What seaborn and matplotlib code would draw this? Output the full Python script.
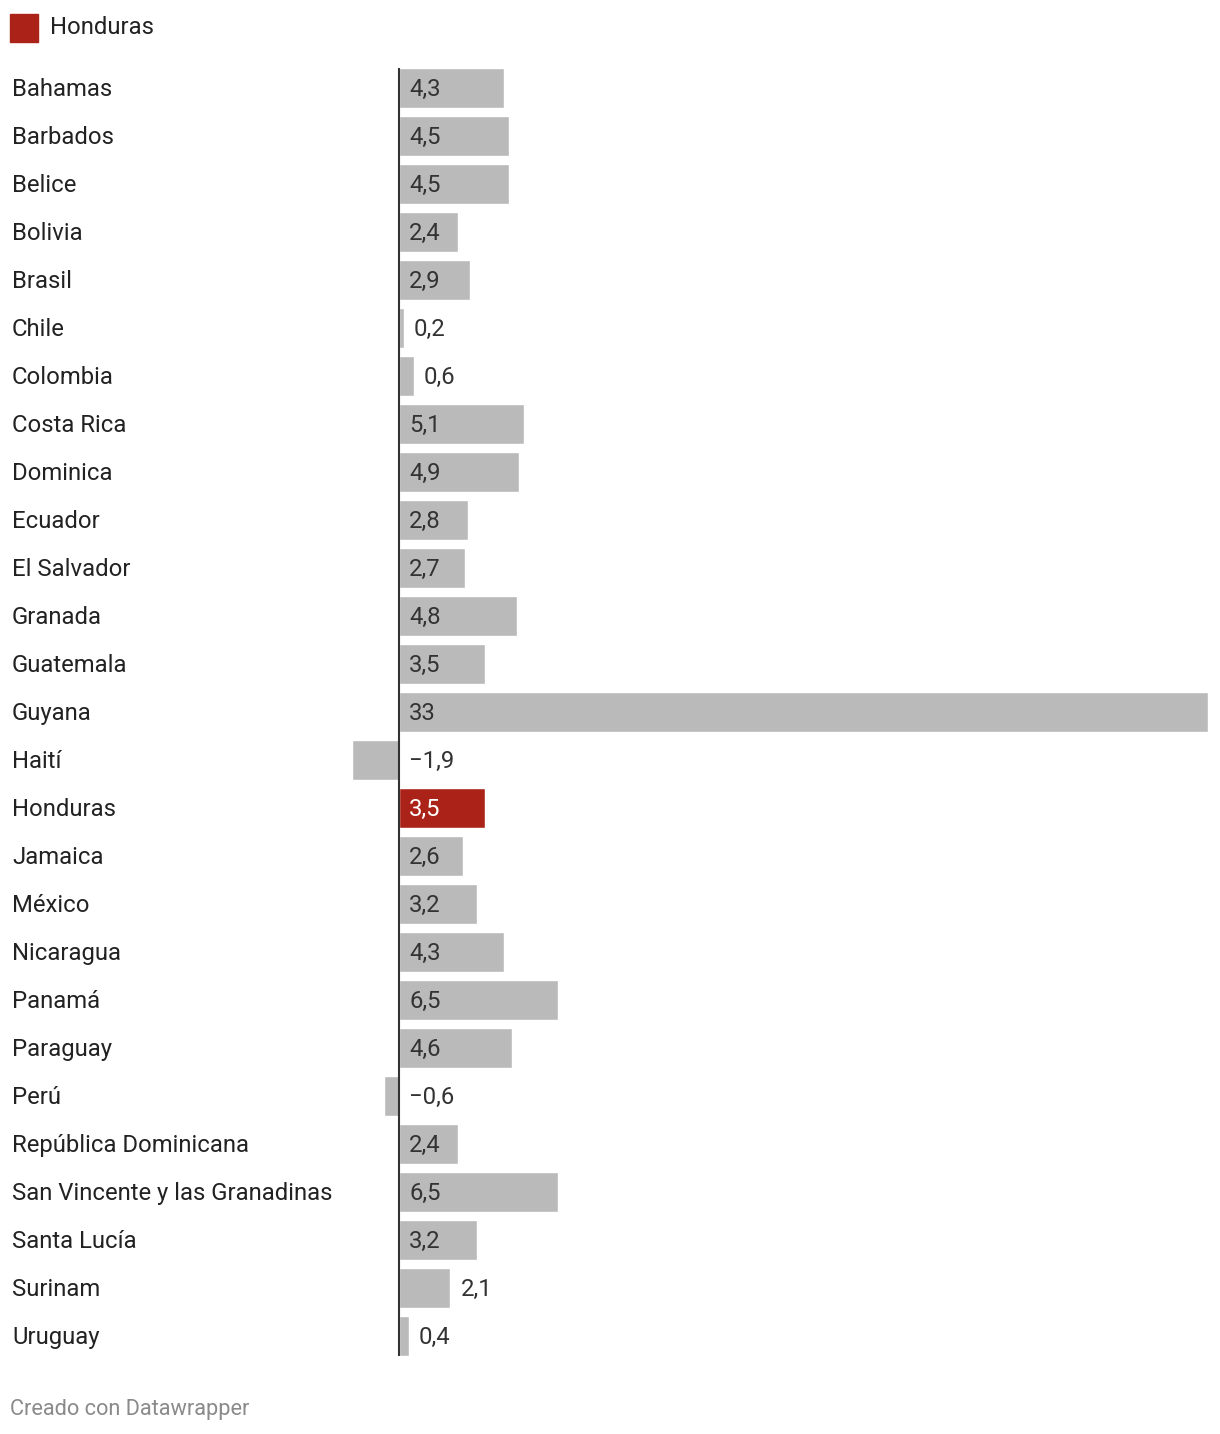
import numpy as np
import pandas as pd
import matplotlib
matplotlib.use("Agg")
import matplotlib.pyplot as plt
import seaborn as sns

# datos
paises = ["Bahamas", "Barbados", "Belice", "Bolivia", "Brasil", "Chile", "Colombia",
          "Costa Rica", "Dominica", "Ecuador", "El Salvador", "Granada", "Guatemala",
          "Guyana", "Haití", "Honduras", "Jamaica", "México", "Nicaragua", "Panamá",
          "Paraguay", "Perú", "República Dominicana", "San Vincente y las Granadinas",
          "Santa Lucía", "Surinam", "Uruguay"]
valores = [4.3, 4.5, 4.5, 2.4, 2.9, 0.2, 0.6, 5.1, 4.9, 2.8, 2.7, 4.8, 3.5, 33,
           -1.9, 3.5, 2.6, 3.2, 4.3, 6.5, 4.6, -0.6, 2.4, 6.5, 3.2, 2.1, 0.4]
destacado = "Honduras"

df = pd.DataFrame({"pais": paises, "valor": valores})
df["grupo"] = np.where(df.pais == destacado, "Honduras", "otros")

gris = "#bababa"
rojo = "#ab2318"
texto = "#333333"
fs = 17.2

sns.set_theme(style="white")
plt.rcParams["font.family"] = ["Roboto", "DejaVu Sans"]

W, H = 1220, 1434
fig = plt.figure(figsize=(W / 100, H / 100), dpi=100)

# eje en pixeles: cero en x=399, 33 en x=1208
esc = (1208 - 399) / 33
x0 = 399 + min(valores) * esc
ax = fig.add_axes([x0 / W, (H - 1356) / H, (1208 - x0) / W, (1356 - 68) / H])

sns.barplot(data=df, x="valor", y="pais", hue="grupo", orient="h",
            palette={"Honduras": rojo, "otros": gris}, width=40 / 48,
            dodge=False, legend=False, ax=ax, saturation=1)

hueco = (1 - 40 / 48) / 2
ax.set_xlim(min(valores), 33)
ax.set_ylim(len(paises) - 0.5 - hueco, -0.5 + hueco)
ax.axvline(0, color=texto, lw=1.5, zorder=5)
ax.set_axis_off()

# etiquetas de valor
pad = 10 / esc
dy = 1.5 / 48
for i, v in enumerate(valores):
    s = f"{v:.1f}".replace(".", ",").replace("-", "\u2212")
    if v == int(v) and abs(v) >= 10:
        s = str(int(v))
    if v > 2.2:
        col = "white" if paises[i] == destacado else texto
        ax.text(pad, i + dy, s, ha="left", va="center", fontsize=fs, color=col)
    else:
        ax.text(max(v, 0) + pad, i + dy, s, ha="left", va="center", fontsize=fs, color=texto)

# nombres de paises
for i, p in enumerate(paises):
    y = 89.5 + 48 * i
    fig.text(12 / W, 1 - y / H, p, ha="left", va="center", fontsize=fs, color="#222222")

# leyenda
fig.patches.append(plt.Rectangle((10 / W, 1 - 42 / H), 28 / W, 28 / H,
                                 transform=fig.transFigure, color=rojo))
fig.text(50 / W, 1 - 27.5 / H, "Honduras", ha="left", va="center", fontsize=fs, color="#222222")

fig.text(10 / W, 1 - 1409.5 / H, "Creado con Datawrapper", ha="left", va="center",
         fontsize=15.7, color="#8a8a8a")

fig.savefig("out.png", dpi=100, facecolor="white")
